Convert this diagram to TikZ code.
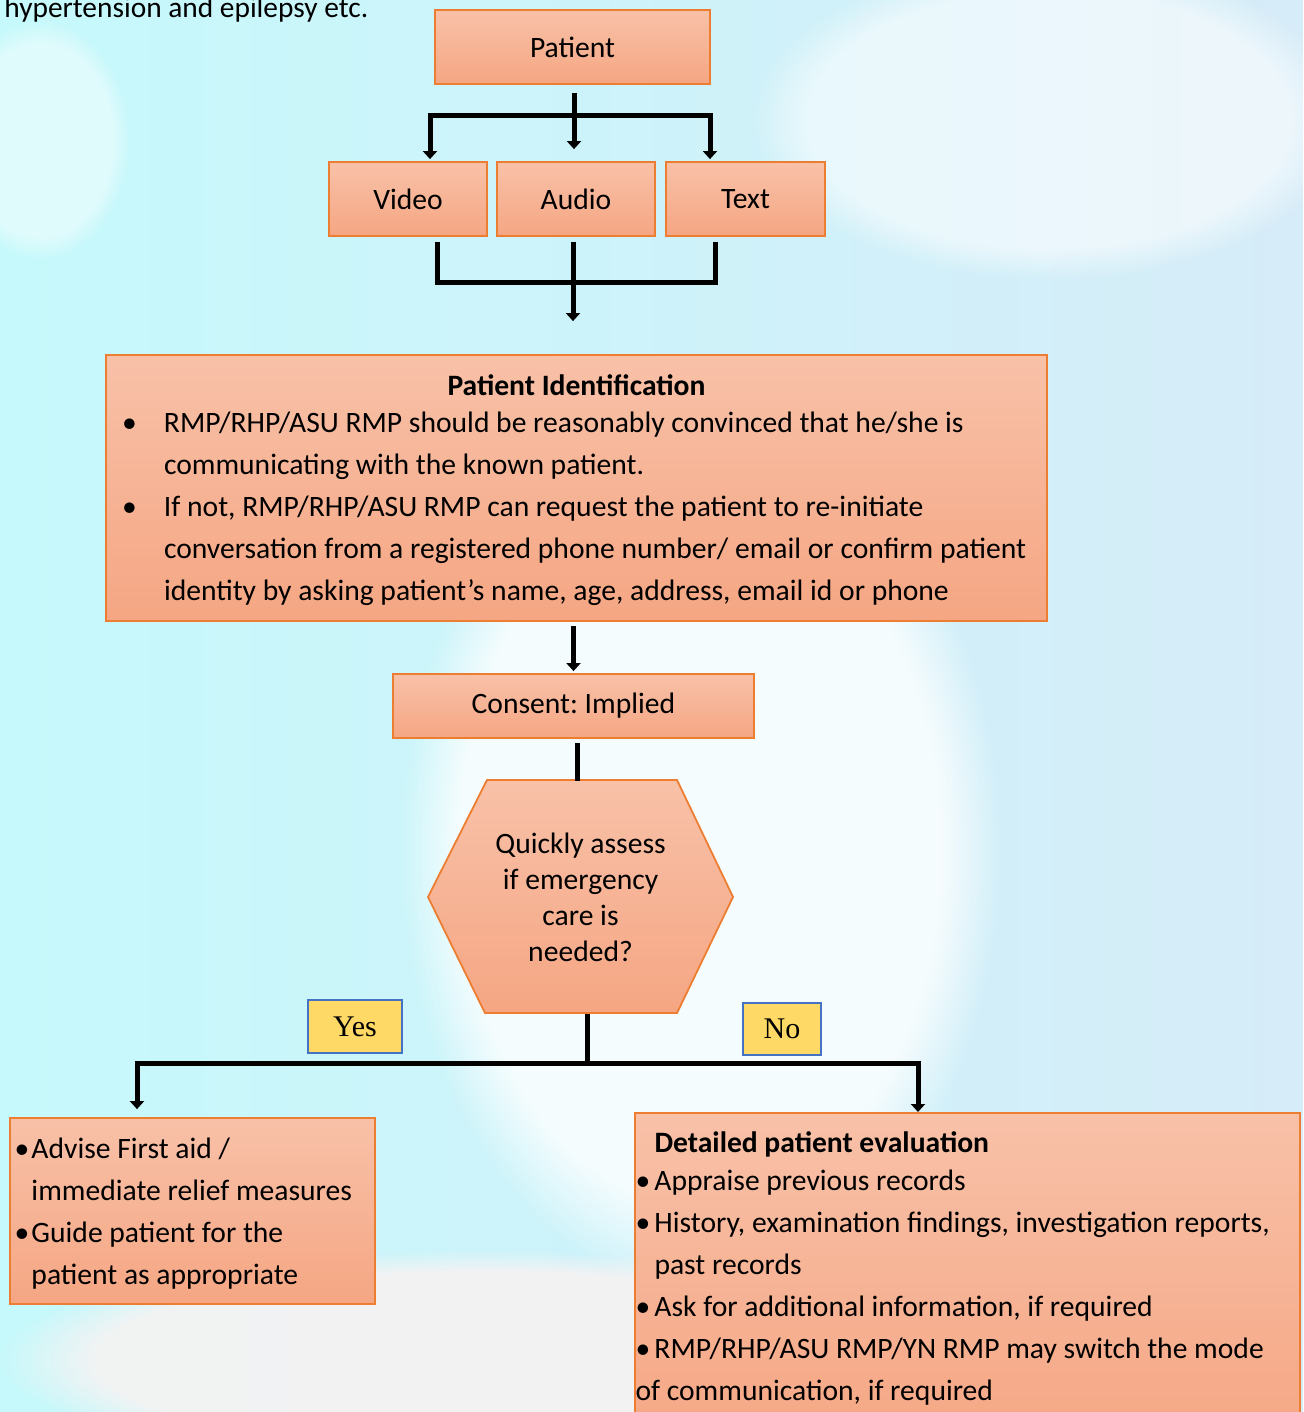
\documentclass[tikz,border=0pt]{standalone}
\usepackage{fontspec}
\setmainfont{Carlito}
\newfontfamily\tagfont{Liberation Serif}
\usetikzlibrary{arrows.meta,fadings,positioning}
\definecolor{boxtop}{RGB}{248,193,168}
\definecolor{boxbot}{RGB}{245,166,131}
\definecolor{boxline}{RGB}{237,125,49}
\definecolor{tagfill}{RGB}{255,217,102}
\definecolor{tagline}{RGB}{68,114,196}
\definecolor{skyleft}{RGB}{198,249,251}
\definecolor{skyright}{RGB}{214,236,248}
\definecolor{skypink}{RGB}{252,242,242}

\begin{document}
\frenchspacing
\begin{tikzpicture}
[x=0.5pt,y=-0.5pt,
box/.style={draw=boxline,line width=0.9pt,top color=boxtop,bottom color=boxbot,
  font=\fontsize{14.8}{21}\selectfont,inner sep=0pt},
hexbox/.style={align=center,inner sep=0pt,font=\fontsize{14.8}{18}\selectfont},
tag/.style={draw=tagline,line width=0.8pt,fill=tagfill,
  font=\tagfont\fontsize{15}{16}\selectfont,inner sep=0pt},
blob/.style={path fading=circle with fuzzy edge 20 percent},
%
myedge/.style={line width=2.5pt},
dedge/.style={myedge,-{Triangle[width=7pt,length=4pt]}}]

\useasboundingbox (0,0) rectangle (1303,1412);

% sky behind the chart
\fill[left color=skyleft,right color=skyright] (0,0) rectangle (1303,1412);
\fill[white,opacity=.8,blob] (700,850) ellipse [x radius=150pt,y radius=220pt];
\fill[white,opacity=.55,blob] (1050,120) ellipse [x radius=150pt,y radius=80pt];
\fill[white,opacity=.45,blob] (40,140) ellipse [x radius=45pt,y radius=60pt];
\fill[skypink,opacity=.8,blob] (480,1360) ellipse [x radius=240pt,y radius=55pt];

\node (note) [anchor=base west,inner sep=0pt,font=\fontsize{14.7}{21}\selectfont] at (4,18) {hypertension and epilepsy etc.};

\node (patient) [box,minimum width=137.5pt,minimum height=37pt] at (572.5,47) {Patient};
\node (video) [box,minimum width=79pt,minimum height=37pt] at (408,199) {Video};
\node (audio) [box,minimum width=79pt,minimum height=37pt] at (576,199) {Audio};
\node (txt) [box,minimum width=79.5pt,minimum height=37pt] at (745.5,199) {Text};

\node (ident) [box,minimum width=470.5pt,minimum height=133pt,text width=454.5pt,align=flush left] at (576.5,488)
{\hfill\rule{0pt}{13pt}\textbf{Patient Identification}\hfill\null\\[-2.5pt]
\makebox[21pt][l]{•}RMP/RHP/ASU RMP should be reasonably convinced that he/she is\\
\hspace*{21pt}communicating with the known patient.\\
\makebox[21pt][l]{•}If not, RMP/RHP/ASU RMP can request the patient to re-initiate\\
\hspace*{21pt}\mbox{conversation from a registered phone number/ email or confirm patient}\\
\hspace*{21pt}identity by asking patient’s name, age, address, email id or phone};

\node (consent) [box,minimum width=180.5pt,minimum height=32pt] at (573.5,706) {Consent: Implied};

% decision hexagon
\path[box] (487,780) -- (677,780) -- (733,897) -- (677,1013) -- (485,1013) -- (428,897) -- cycle;
\node (assess) [hexbox,minimum width=152.5pt,minimum height=116.5pt] at (580.5,897.5)
{Quickly assess\\if emergency\\care is\\needed?};

\node (yes) [tag,minimum width=47pt,minimum height=26.5pt] at (355,1026.5) {Yes};
\node (no) [tag,minimum width=39pt,minimum height=26pt] at (782,1029) {No};

\node (aid) [box,minimum width=182.5pt,minimum height=93pt,text width=178pt,align=flush left] at (192.5,1211)
{\rule{0pt}{13pt}\makebox[8.5pt][l]{•}Advise First aid /\\
\hspace*{8.5pt}immediate relief measures\\
\makebox[8.5pt][l]{•}Guide patient for the\\
\hspace*{8.5pt}patient as appropriate};

\node (eval) [box,minimum width=332.5pt,minimum height=170pt,anchor=north] at (967.5,1112) {};
\node (evaltxt) [anchor=north west,align=left,inner sep=0pt,font=\fontsize{14.8}{21}\selectfont]
  at ([xshift=0.5pt,yshift=-9.5pt]eval.north west)
{\hspace*{9.5pt}\textbf{Detailed patient evaluation}\\[-2pt]
\makebox[9.5pt][l]{•}Appraise previous records\\
\makebox[9.5pt][l]{•}History, examination findings, investigation reports,\\
\hspace*{9.5pt}past records\\
\makebox[9.5pt][l]{•}Ask for additional information, if required\\
\makebox[9.5pt][l]{•}RMP/RHP/ASU RMP/YN RMP may switch the mode\\
of communication, if required};

% patient to the three modes
\coordinate (fork) at (574,116);
\draw[dedge,shorten <=4pt,shorten >=6pt] (fork |- patient.south) -- (fork |- audio.north);
\draw[dedge,shorten >=1pt] (fork) -| ([xshift=11pt]video.north);
\draw[dedge,shorten >=1pt] (fork) -| ([xshift=-17.75pt]txt.north);

% modes into identification
\coordinate (join) at (573,282);
\draw[myedge,shorten <=2.5pt] ([xshift=14.5pt]video.south) |- (join);
\draw[myedge,shorten <=2.5pt] ([xshift=-15.25pt]txt.south) |- (join);
\draw[dedge,shorten <=2.5pt,shorten >=16.5pt] (join |- audio.south) -- (join |- ident.north);

\draw[dedge,shorten <=2pt,shorten >=1pt] (consent.north |- ident.south) -- (consent.north);
\draw[myedge,shorten <=2pt] ([xshift=1.75pt]consent.south) -- ([xshift=1.75pt]consent.south |- assess.north);

% yes / no branches
\coordinate (split) at (587,1063);
\draw[myedge] (split |- assess.south) -- (split);
\draw[dedge,shorten >=4pt] (split) -| ([xshift=-27.75pt]aid.north);
\draw[dedge] (split) -| ([xshift=-24.75pt]eval.north);

\end{tikzpicture}
\end{document}
